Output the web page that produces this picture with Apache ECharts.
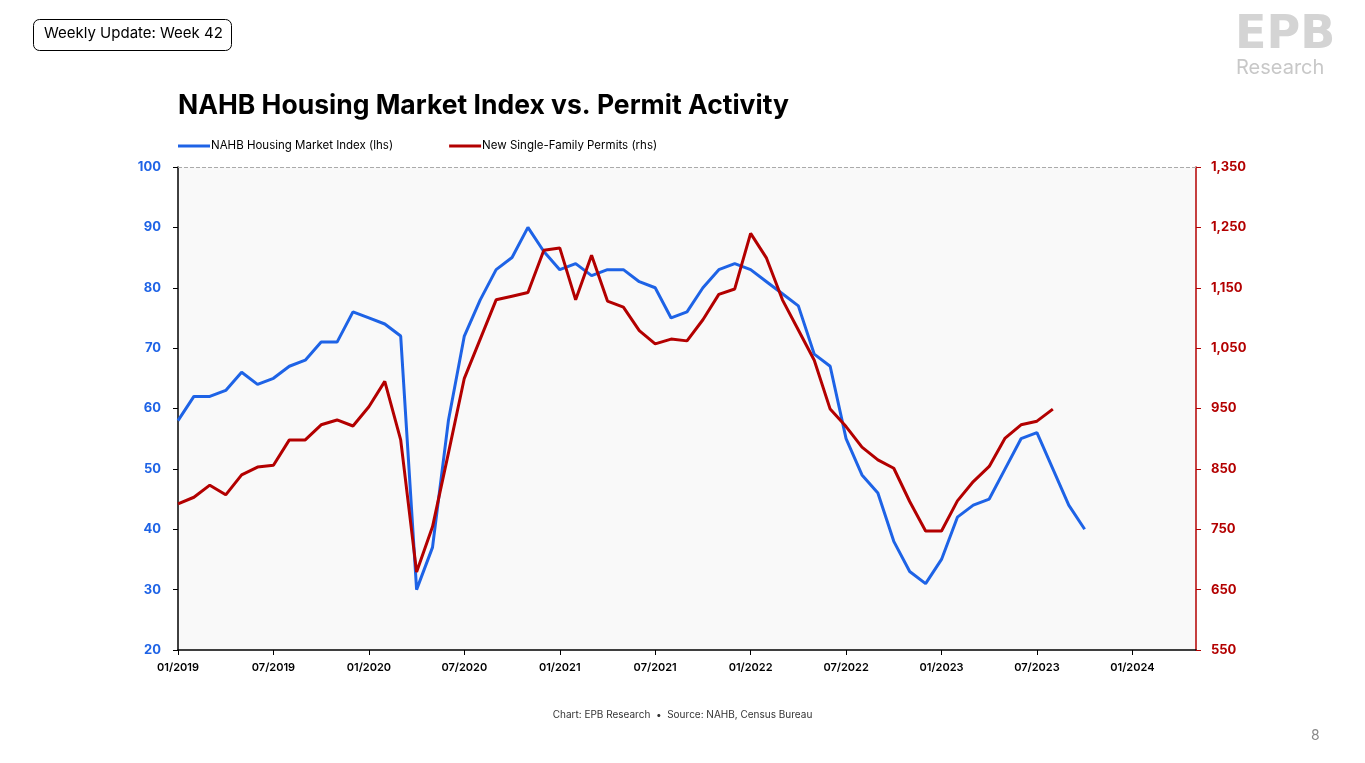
<!DOCTYPE html>
<html><head><meta charset="utf-8">
<script src="https://cdn.jsdelivr.net/npm/echarts@6/dist/echarts.min.js"></script>
<style>html,body{margin:0;padding:0;background:#fff;}#c{width:1365px;height:763px;}</style>
</head><body><div id="c"></div>
<script>
const months = [
 '01/2019','02/2019','03/2019','04/2019','05/2019','06/2019','07/2019','08/2019','09/2019','10/2019','11/2019','12/2019',
 '01/2020','02/2020','03/2020','04/2020','05/2020','06/2020','07/2020','08/2020','09/2020','10/2020','11/2020','12/2020',
 '01/2021','02/2021','03/2021','04/2021','05/2021','06/2021','07/2021','08/2021','09/2021','10/2021','11/2021','12/2021',
 '01/2022','02/2022','03/2022','04/2022','05/2022','06/2022','07/2022','08/2022','09/2022','10/2022','11/2022','12/2022',
 '01/2023','02/2023','03/2023','04/2023','05/2023','06/2023','07/2023','08/2023','09/2023','10/2023','11/2023','12/2023',
 '01/2024','02/2024','03/2024','04/2024','05/2024'
];
const nahbIndex = [
 58,62,62,63,66,64,65,67,68,71,71,76,
 75,74,72,30,37,58,72,78,83,85,90,86,
 83,84,82,83,83,81,80,75,76,80,83,84,
 83,81,79,77,69,67,55,49,46,38,33,31,
 35,42,44,45,50,55,56,50,44,40
];
const sfPermits = [
 792,803,823,807,840,853,856,898,898,923,931,921,
 953,995,898,679,754,876,1000,1065,1130,1136,1142,1212,
 1216,1130,1204,1128,1118,1079,1057,1065,1062,1097,1139,1148,
 1240,1199,1130,1080,1030,949,920,886,865,851,796,747,
 747,797,829,854,901,923,929,949
];
const seriesNames = ['NAHB Housing Market Index (lhs)', 'New Single-Family Permits (rhs)'];
const BLUE = '#1e63e6', RED = '#b30000';
const FONT = 'Inter, "Open Sans", sans-serif';

const chart = echarts.init(document.getElementById('c'));
chart.setOption({
  animation: false,
  backgroundColor: '#ffffff',
  textStyle: { fontFamily: FONT },
  title: {
    text: 'NAHB Housing Market Index vs. Permit Activity',
    left: 173, top: 88,
    textStyle: { fontFamily: FONT, fontSize: 26.5, fontWeight: 'bold', color: '#000' }
  },
  legend: {
    left: 173, top: 135, icon: 'rect', itemWidth: 32, itemHeight: 3, itemGap: 56,
    textStyle: { fontFamily: FONT, fontSize: 11.5, color: '#000', padding: [0,0,0,-4] },
    data: seriesNames
  },
  grid: { left: 178, right: 169, top: 167, bottom: 113, show: true, backgroundColor: '#f9f9f9', borderWidth: 0 },
  xAxis: {
    type: 'category', data: months, boundaryGap: false,
    axisLine: { lineStyle: { color: '#000', width: 1.5 } },
    axisTick: { interval: 5, length: 5, lineStyle: { color: '#000' } },
    axisLabel: { interval: 5, margin: 12, fontSize: 11, fontWeight: 600, color: '#000', fontFamily: FONT }
  },
  yAxis: [
    { type: 'value', min: 20, max: 100, interval: 10, position: 'left',
      axisLine: { show: true, lineStyle: { color: '#000', width: 1.5 } },
      axisTick: { show: true, length: 5, lineStyle: { color: '#000' } },
      splitLine: { show: false },
      axisLabel: { margin: 17, fontSize: 13, fontWeight: 'bold', color: BLUE, fontFamily: FONT } },
    { type: 'value', min: 550, max: 1350, interval: 100, position: 'right',
      axisLine: { show: true, lineStyle: { color: RED, width: 1.5 } },
      axisTick: { show: true, length: 5, lineStyle: { color: RED } },
      splitLine: { show: false },
      axisLabel: { margin: 15, fontSize: 13, fontWeight: 'bold', color: RED, fontFamily: FONT,
        formatter: v => v.toLocaleString('en-US') } }
  ],
  series: [
    { name: seriesNames[0], type: 'line', yAxisIndex: 0, data: nahbIndex, symbol: 'none',
      lineStyle: { color: BLUE, width: 3 }, itemStyle: { color: BLUE },
      markLine: { silent: true, symbol: 'none', label: { show: false },
        lineStyle: { color: '#aaa', type: 'dashed', width: 1 }, data: [{ yAxis: 100 }] } },
    { name: seriesNames[1], type: 'line', yAxisIndex: 1, data: sfPermits, symbol: 'none',
      lineStyle: { color: RED, width: 3 }, itemStyle: { color: RED } }
  ],
  graphic: [
    { type: 'rect', left: 33, top: 19, shape: { width: 198, height: 31, r: 6 },
      style: { fill: '#fff', stroke: '#000', lineWidth: 1 } },
    { type: 'text', left: 44, top: 26, style: { text: 'Weekly Update: Week 42', font: '15px ' + FONT, fill: '#000' } },
    { type: 'text', left: 1235, top: 13, style: { text: 'EPB', font: 'bold 46px "Liberation Sans Narrow", "DejaVu Sans", sans-serif', fill: '#d4d4d4' } },
    { type: 'text', left: 1236, top: 58, style: { text: 'Research', font: '20px ' + FONT, fill: '#c8c8c8' } },
    { type: 'text', left: 'center', top: 710, style: { text: 'Chart: EPB Research  \u2022  Source: NAHB, Census Bureau', font: '10px ' + FONT, fill: '#333' } },
    { type: 'text', left: 1311, top: 729, style: { text: '8', font: '14px ' + FONT, fill: '#888' } }
  ]
});
</script></body></html>
